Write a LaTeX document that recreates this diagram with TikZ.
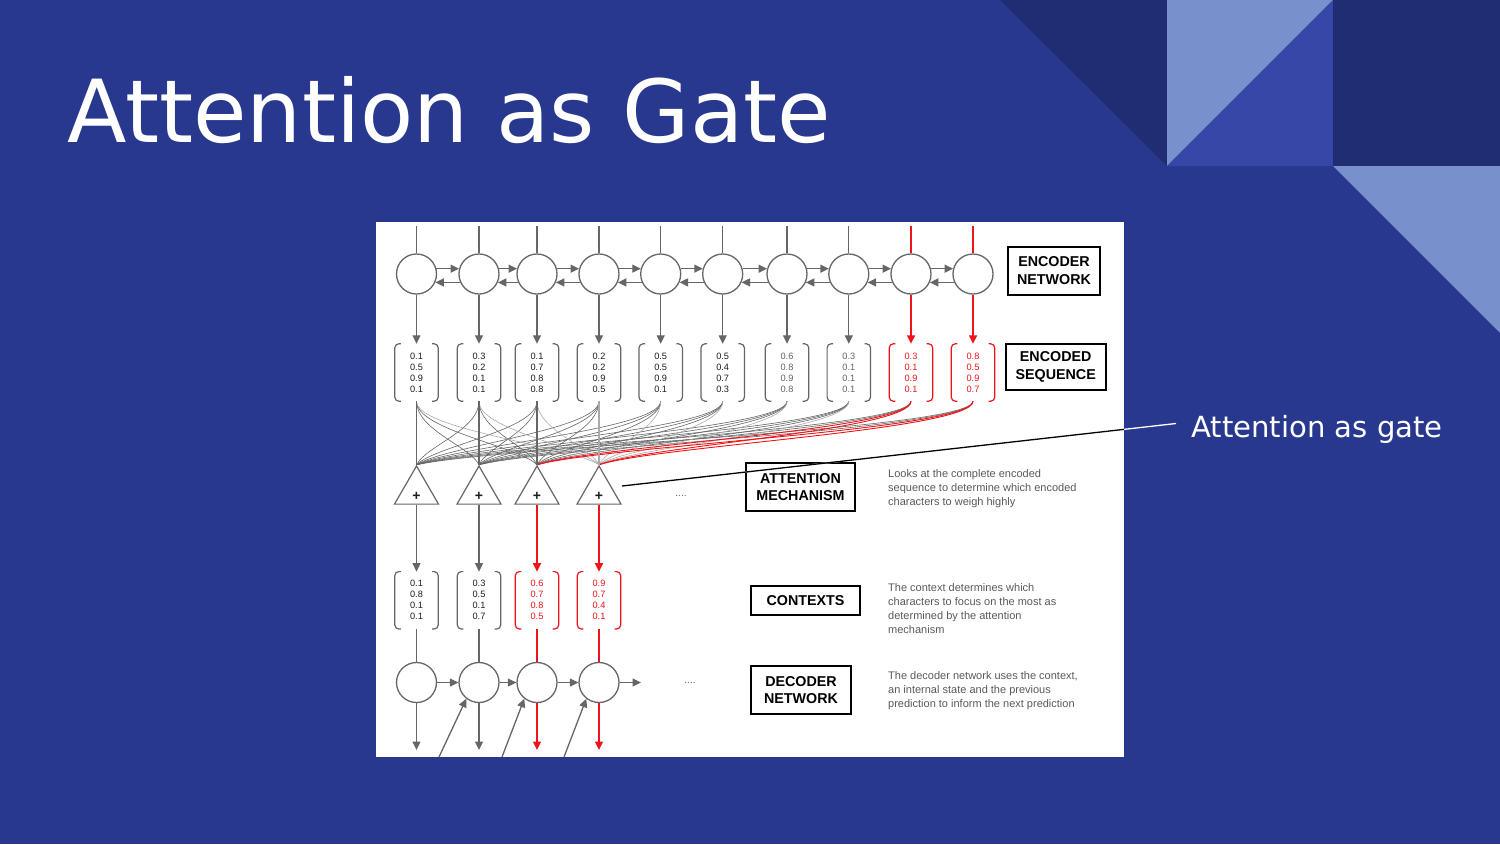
\documentclass[tikz,border=0pt]{standalone}
\usepackage{fontspec}
\setmainfont{Liberation Sans}
\newfontfamily\dejavu{DejaVu Sans}
\usetikzlibrary{arrows.meta,shapes.geometric,calc}
\definecolor{bgmain}{RGB}{41,56,143}
\definecolor{bgdark}{RGB}{33,45,115}
\definecolor{bglight}{RGB}{120,144,204}
\definecolor{bgmid}{RGB}{55,71,168}
\definecolor{lg}{RGB}{102,102,102}
\definecolor{llg}{RGB}{170,170,170}
\definecolor{rd}{RGB}{240,20,25}
\definecolor{desctext}{RGB}{90,90,90}
\definecolor{numdark}{RGB}{30,30,30}
\definecolor{numgray}{RGB}{100,100,100}
\newcommand\vbrack[2]{%
  \draw[#2,line width=1.2pt,rounded corners=4pt] ([xshift=6pt]#1.north west) -- (#1.north west) -- (#1.south west) -- ([xshift=6pt]#1.south west);
  \draw[#2,line width=1.2pt,rounded corners=4pt] ([xshift=-6pt]#1.north east) -- (#1.north east) -- (#1.south east) -- ([xshift=-6pt]#1.south east);}
\begin{document}
\begin{tikzpicture}[x=1pt,y=-1pt,
  cell/.style={circle,draw=lg,line width=1.3pt,minimum size=40pt,inner sep=0pt},
  vec/.style={minimum width=43pt,minimum height=57pt,inner sep=0pt,align=center,font=\fontsize{9.2}{11}\selectfont},
  gate/.style={regular polygon,regular polygon sides=3,draw=lg,line width=1.2pt,minimum size=50.8pt,inner sep=0pt},
  lab/.style={draw=black,line width=2pt,inner sep=0pt,align=center,font=\bfseries\fontsize{14.3}{17.3}\selectfont},
  desc/.style={anchor=north west,align=left,text=desctext,font=\fontsize{11}{14}\selectfont,inner sep=0pt},
  wire/.style={line width=1.3pt},
  redwire/.style={line width=1.5pt,draw=rd,fill=rd},
  tip/.style={-{Triangle[length=8.5pt,width=8pt]}},
  thin/.style={line width=0.6pt},
  dots/.style={text=lg,inner sep=0pt,font=\fontsize{10}{10}\selectfont}
]
\useasboundingbox (0,0) rectangle (1500,844);
% slide background
\fill[bgmain] (0,0) rectangle (1500,844);
\fill[bgdark] (1000,0) -- (1167,0) -- (1167,166) -- cycle;
\fill[bglight] (1167,0) -- (1333,0) -- (1167,166) -- cycle;
\fill[bgmid] (1333,0) -- (1333,166) -- (1167,166) -- cycle;
\fill[bgdark] (1333,0) rectangle (1500,166);
\fill[bglight] (1333,166) -- (1500,166) -- (1500,333) -- cycle;
\node[anchor=base west,inner sep=0pt,text=white,font=\dejavu\fontsize{87}{90}\selectfont] (title) at (67,142) {Attention as Gate};
% image
\fill[white] (376,222) rectangle (1124,757);

% encoder cells and encoded vectors
\foreach \i/\x/\a/\b/\c/\d/\tc in {
  1/416.5/0.1/0.5/0.9/0.1/numdark,
  2/479/0.3/0.2/0.1/0.1/numdark,
  3/537/0.1/0.7/0.8/0.8/numdark,
  4/599/0.2/0.2/0.9/0.5/numdark,
  5/660.7/0.5/0.5/0.9/0.1/numdark,
  6/722.7/0.5/0.4/0.7/0.3/numdark,
  7/787/0.6/0.8/0.9/0.8/numgray,
  8/848.8/0.3/0.1/0.1/0.1/numgray} {
  \node[cell] (e\i) at (\x,274) {};
  \coordinate (in\i) at (\x,226);
  \node[vec,text=\tc] (v\i) at (\x,372.5) {\a\\\b\\\c\\\d};
  \vbrack{v\i}{lg}
  \draw[wire,lg] (in\i) -- (e\i.north);
  \draw[wire,tip,lg] (e\i.south) -- (v\i.north);
}
\foreach \i/\x/\a/\b/\c/\d in {
  9/911/0.3/0.1/0.9/0.1,
  10/973/0.8/0.5/0.9/0.7} {
  \node[cell] (e\i) at (\x,274) {};
  \coordinate (in\i) at (\x,226);
  \node[vec,text=rd] (v\i) at (\x,372.5) {\a\\\b\\\c\\\d};
  \vbrack{v\i}{rd}
  \draw[redwire] (in\i) -- (e\i.north);
  \draw[redwire,tip] (e\i.south) -- (v\i.north);
}
\foreach \i/\j in {1/2,2/3,3/4,4/5,5/6,6/7,7/8,8/9,9/10} {
  \draw[wire,tip,lg] (e\i.15) -- (e\j.165);
  \draw[wire,tip,lg] (e\j.-156) -- (e\i.-24);
}

% gates
\foreach \j/\x in {1/416.5,2/479,3/537,4/599} {
  \node[gate] (t\j) at (\x,491.4) {};
  \node[inner sep=0pt,text=numdark,font=\bfseries\fontsize{14}{14}\selectfont] (p\j) at (\x,496.5) {+};
}
% attention curves
\foreach \i/\xi in {1/416.5,2/479,3/537,4/599,5/660.7,6/722.7,7/787,8/848.8,9/911,10/973} {
  \foreach \j/\xj in {1/416.5,2/479} {
    \ifnum\i=\j\relax\else
      \draw[thin,lg] (v\i.south) .. controls (\xi,430) and ({\xj+0.15*(\xi-\xj)},446) .. (t\j.corner 1);
    \fi
  }
}
\foreach \i/\xi in {1/416.5,2/479,4/599,5/660.7,6/722.7,7/787,8/848.8} {
  \draw[thin,lg] (v\i.south) .. controls (\xi,430) and ({537+0.15*(\xi-537)},446) .. (t3.corner 1);
}
\foreach \i/\xi in {1/416.5,2/479,3/537,5/660.7,6/722.7,7/787,8/848.8} {
  \draw[thin,llg] (v\i.south) .. controls (\xi,430) and ({599+0.15*(\xi-599)},446) .. (t4.corner 1);
}
\foreach \i/\xi in {9/911,10/973} {
  \foreach \j/\xj in {3/537,4/599} {
    \draw[line width=0.9pt,rd] (v\i.south) .. controls (\xi,430) and ({\xj+0.15*(\xi-\xj)},446) .. (t\j.corner 1);
  }
}
\draw[wire,lg] (v1.south) -- (t1.corner 1);
\draw[wire,lg] (v2.south) -- (t2.corner 1);
\draw[wire,lg] (v3.south) -- (t3.corner 1);
\draw[wire,llg] (v4.south) -- (t4.corner 1);
\node[dots] (dotsA) at (681,495.5) {....};

% contexts and decoder
\foreach \j/\x/\a/\b/\c/\d in {
  1/416.5/0.1/0.8/0.1/0.1,
  2/479/0.3/0.5/0.1/0.7} {
  \node[vec,text=numdark] (c\j) at (\x,600.3) {\a\\\b\\\c\\\d};
  \vbrack{c\j}{lg}
  \draw[wire,tip,lg] (t\j.south) -- (c\j.north);
  \node[cell] (d\j) at (\x,682.5) {};
  \draw[wire,lg] (c\j.south) -- (d\j.north);
  \coordinate (o\j) at (\x,750);
  \draw[wire,tip,lg] (d\j.south) -- (o\j);
}
\foreach \j/\x/\a/\b/\c/\d in {
  3/537/0.6/0.7/0.8/0.5,
  4/599/0.9/0.7/0.4/0.1} {
  \node[vec,text=rd] (c\j) at (\x,600.3) {\a\\\b\\\c\\\d};
  \vbrack{c\j}{rd}
  \draw[redwire,tip] (t\j.south) -- (c\j.north);
  \node[cell] (d\j) at (\x,682.5) {};
  \draw[redwire] (c\j.south) -- (d\j.north);
  \coordinate (o\j) at (\x,750);
  \draw[redwire,tip] (d\j.south) -- (o\j);
}
\foreach \i/\j in {1/2,2/3,3/4} {
  \draw[wire,tip,lg] (d\i.east) -- (d\j.west);
}
\coordinate (dout) at (641,682.5);
\draw[wire,tip,lg] (d4.east) -- (dout);
\coordinate (f2) at (439,757);
\coordinate (f3) at (502,757);
\coordinate (f4) at (564,757);
\draw[wire,tip,lg] (f2) -- (d2.-128);
\draw[wire,tip,lg] (f3) -- (d3.-128);
\draw[wire,tip,lg] (f4) -- (d4.-128);
\node[dots] (dotsB) at (690,682.5) {....};

% labels
\node[lab,minimum width=92pt,minimum height=48pt] (encl) at (1054,270.5) {ENCODER\\NETWORK};
\node[lab,minimum width=100pt,minimum height=46pt] (seql) at (1055.7,367) {ENCODED\\SEQUENCE};
\node[lab,minimum width=109pt,minimum height=48pt] (attl) at (800.5,487) {ATTENTION\\MECHANISM};
\node[lab,minimum width=109pt,minimum height=29pt] (ctxl) at (805.5,600.5) {CONTEXTS};
\node[lab,minimum width=100pt,minimum height=48pt] (decl) at (801,690) {DECODER\\NETWORK};
\node[desc] (d1t) at (888,469) {Looks at the complete encoded\\sequence to determine which encoded\\characters to weigh highly};
\node[desc] (d2t) at (888,583) {The context determines which\\characters to focus on the most as\\determined by the attention\\mechanism};
\node[desc] (d3t) at (888,671) {The decoder network uses the context,\\an internal state and the previous\\prediction to inform the next prediction};

% attention as gate pointer
\coordinate (gs) at (622,486);
\coordinate (ge) at (1176,423.5);
\draw[white,line width=1.3pt] (gs) -- (ge);
\begin{scope}
  \clip (376,222) rectangle (1124,757);
  \draw[black,line width=1.3pt] (gs) -- (ge);
\end{scope}
\node[anchor=base west,inner sep=0pt,text=white,font=\dejavu\fontsize{29.1}{30}\selectfont] (gl) at (1191,437.5) {Attention as gate};
\end{tikzpicture}
\end{document}
